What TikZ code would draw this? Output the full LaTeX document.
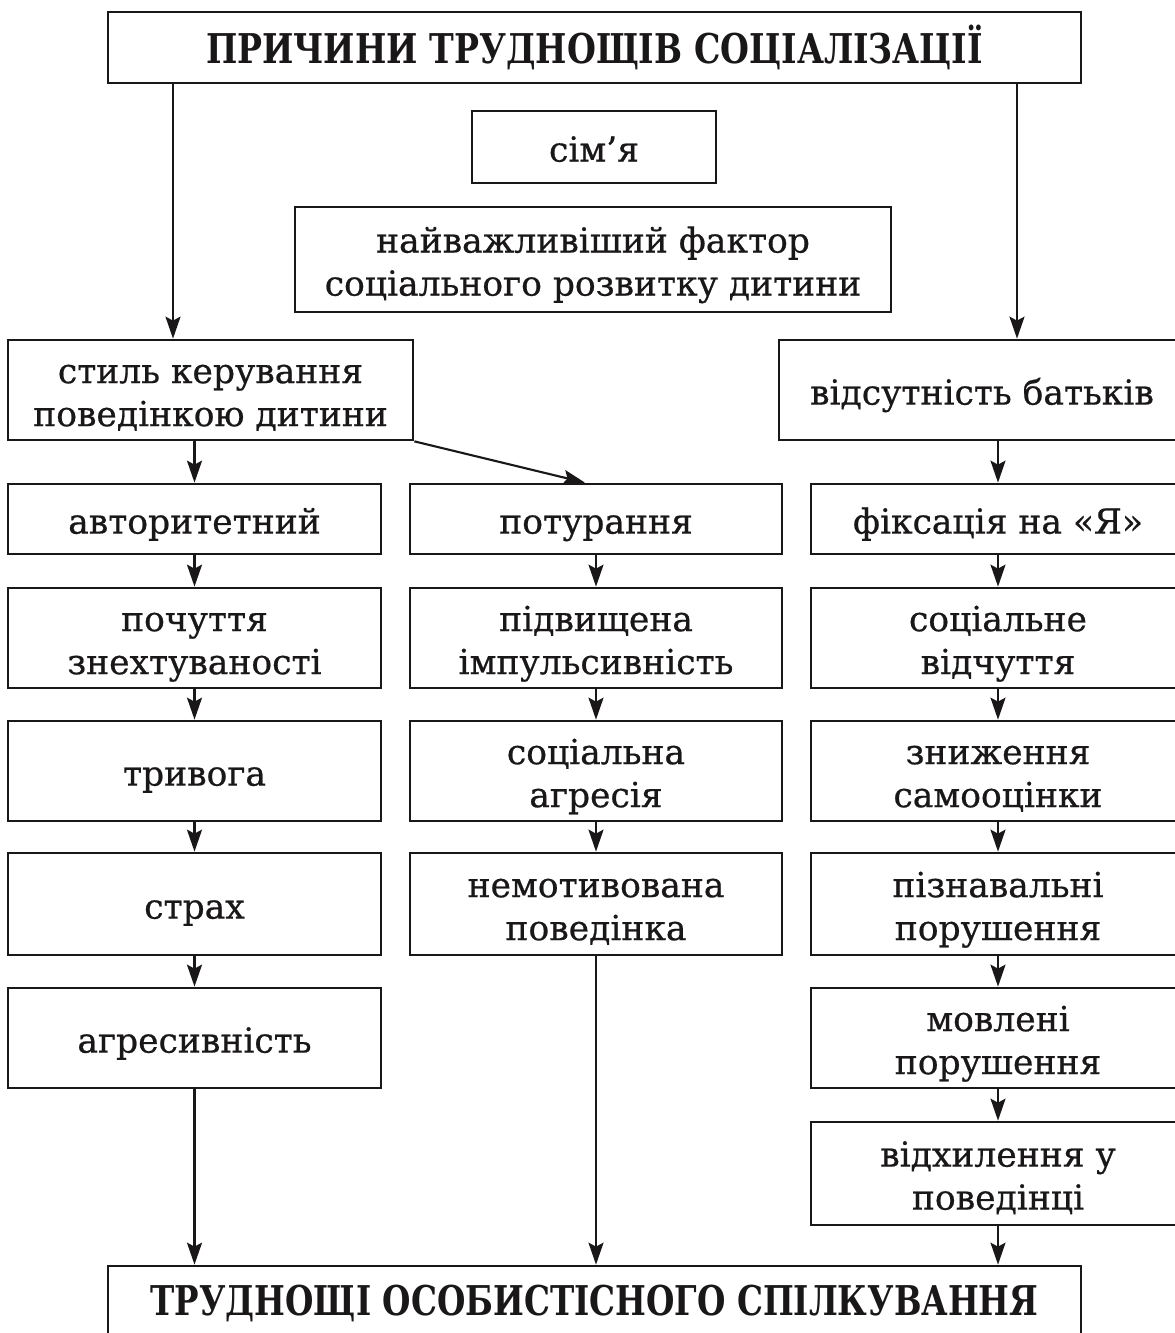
\documentclass[tikz,border=0pt]{standalone}
\usepackage{fontspec}
\setmainfont{DejaVu Serif}[FakeBold=0.6]
\newfontfamily\titlefam{DejaVu Serif}[BoldFont={DejaVu Serif Bold}]
\usetikzlibrary{arrows.meta}
\definecolor{ink}{HTML}{1A1718}
\newcommand\bx[1]{\raisebox{-6pt}[\height][\depth]{\renewcommand\arraystretch{1}\begin{tabular}{@{}c@{}}#1\end{tabular}}}
\begin{document}
\begin{tikzpicture}[x=1pt,y=-1pt,
  box/.style={draw=ink, line width=2.7pt, inner sep=0pt, align=center, text=ink,
              font=\fontsize{34.5}{43}\selectfont},
  titlebox/.style={draw=ink, line width=2.7pt, inner sep=0pt, align=center, text=ink,
              font=\titlefam\fontsize{41}{46}\selectfont\bfseries},
  arr/.style={draw=ink, line width=2.1pt, -{Stealth[length=22pt,width=15pt,inset=4pt]}}]
\useasboundingbox[fill=white] (0,0) rectangle (1175,1333);
\begin{scope}
\clip (0,0) rectangle (1175,1333);
% top part
\node[titlebox, minimum width=973pt, minimum height=71pt] (top) at (594.5,47.5)
  {\resizebox{777pt}{\height}{ПРИЧИНИ ТРУДНОЩІВ СОЦІАЛІЗАЦІЇ}};
\node[box, minimum width=244pt, minimum height=72pt] (sim) at (594,147) {\bx{сім’я}};
\node[box, minimum width=596pt, minimum height=105pt] (naiv) at (593,259.5)
  {\bx{найважливіший фактор\\соціального розвитку дитини}};
\node[box, minimum width=405pt, minimum height=100pt] (styl) at (210.5,390)
  {\bx{стиль керування\\поведінкою дитини}};
\node[box, minimum width=406pt, minimum height=100pt] (vids) at (982,390)
  {\bx{відсутність батьків}};
% left column
\node[box, minimum width=373pt, minimum height=70pt] (avt) at (194.5,519) {\bx{авторитетний}};
\node[box, minimum width=373pt, minimum height=100pt] (poch) at (194.5,638) {\bx{почуття\\знехтуваності}};
\node[box, minimum width=373pt, minimum height=100pt] (tryv) at (194.5,771) {\bx{тривога}};
\node[box, minimum width=373pt, minimum height=102pt] (strakh) at (194.5,904) {\bx{страх}};
\node[box, minimum width=373pt, minimum height=100pt] (agres) at (194.5,1038) {\bx{агресивність}};
% middle column
\node[box, minimum width=372pt, minimum height=70pt] (potur) at (596,519) {\bx{потурання}};
\node[box, minimum width=372pt, minimum height=100pt] (pidv) at (596,638) {\bx{підвищена\\імпульсивність}};
\node[box, minimum width=372pt, minimum height=100pt] (sagr) at (596,771) {\bx{соціальна\\агресія}};
\node[box, minimum width=372pt, minimum height=102pt] (nemot) at (596,904) {\bx{немотивована\\поведінка}};
% right column
\node[box, minimum width=374pt, minimum height=70pt] (fiks) at (998,519) {\bx{фіксація на «Я»}};
\node[box, minimum width=374pt, minimum height=100pt] (svid) at (998,638) {\bx{соціальне\\відчуття}};
\node[box, minimum width=374pt, minimum height=100pt] (znyzh) at (998,771) {\bx{зниження\\самооцінки}};
\node[box, minimum width=374pt, minimum height=102pt] (pizn) at (998,904) {\bx{пізнавальні\\порушення}};
\node[box, minimum width=374pt, minimum height=100pt] (movl) at (998,1038) {\bx{мовлені\\порушення}};
\node[box, minimum width=374pt, minimum height=103pt] (vidkh) at (998,1173.5) {\bx{відхилення у\\поведінці}};
% bottom
\node[titlebox, minimum width=973pt, minimum height=74pt] (bot) at (594.5,1303)
  {\resizebox{888pt}{\height}{ТРУДНОЩІ ОСОБИСТІСНОГО СПІЛКУВАННЯ}};
% connectors
\coordinate (lx) at (173,0);
\coordinate (rx) at (1017,0);
\draw[arr] (top.south -| lx) -- (styl.north -| lx);
\draw[arr] (top.south -| rx) -- (vids.north -| rx);
\draw[arr] (styl.south -| avt.north) -- (avt.north);
\draw[arr] (styl.south east) -- ([xshift=-11pt]potur.north);
\draw[arr] (vids.south -| fiks.north) -- (fiks.north);
\draw[arr] (avt) -- (poch);
\draw[arr] (poch) -- (tryv);
\draw[arr] (tryv) -- (strakh);
\draw[arr] (strakh) -- (agres);
\draw[arr] (potur) -- (pidv);
\draw[arr] (pidv) -- (sagr);
\draw[arr] (sagr) -- (nemot);
\draw[arr] (fiks) -- (svid);
\draw[arr] (svid) -- (znyzh);
\draw[arr] (znyzh) -- (pizn);
\draw[arr] (pizn) -- (movl);
\draw[arr] (movl) -- (vidkh);
\draw[arr] (agres.south) -- (agres.south |- bot.north);
\draw[arr] (nemot.south) -- (nemot.south |- bot.north);
\draw[arr] (vidkh.south) -- (vidkh.south |- bot.north);
\end{scope}
\end{tikzpicture}
\end{document}
